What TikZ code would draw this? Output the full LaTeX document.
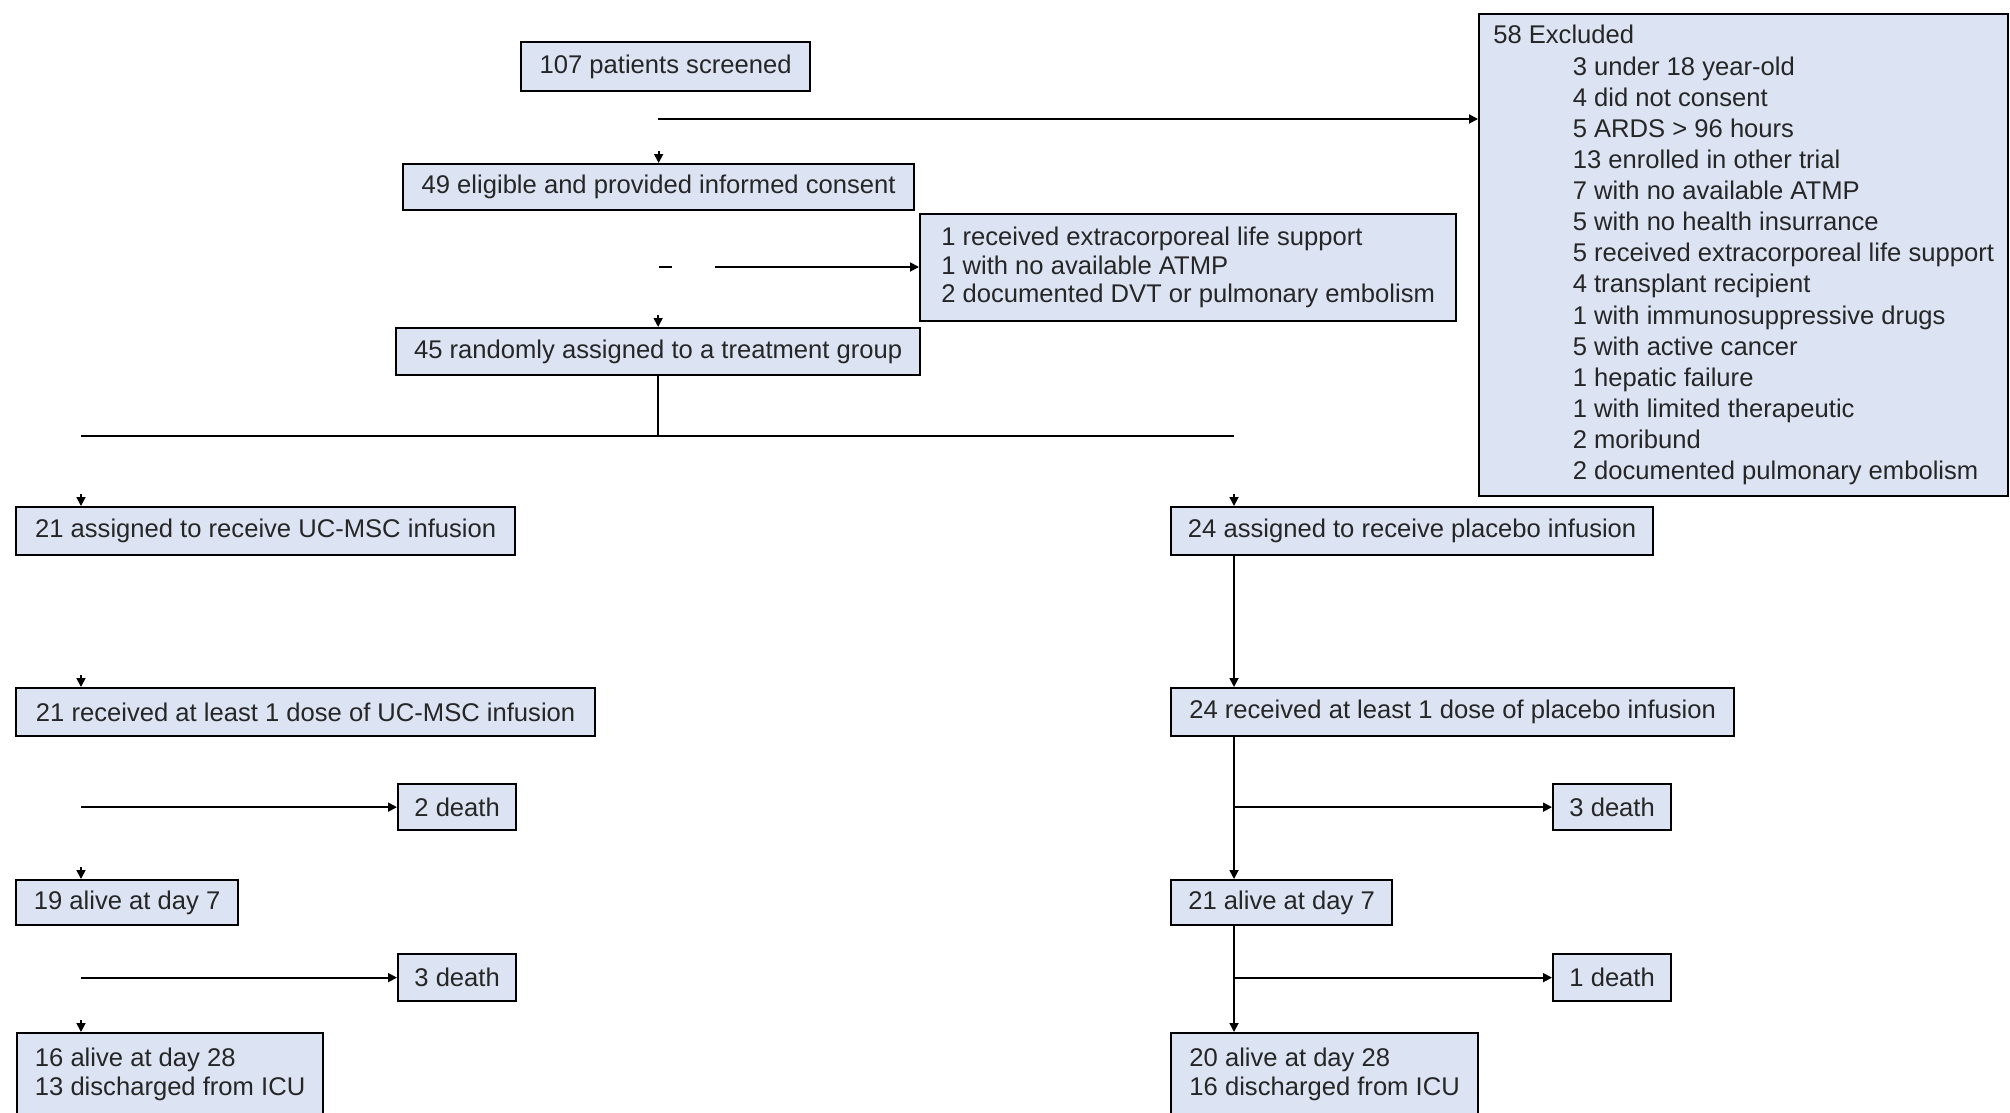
\documentclass[tikz,border=0pt]{standalone}
\usepackage{xcolor}
\usepackage{fontspec}
\setmainfont{Liberation Sans}
\usepackage{tikz}
\usetikzlibrary{arrows.meta,calc}

\definecolor{boxfill}{RGB}{220,227,242}
\newcommand{\exind}{\hspace*{31.8pt}}

\begin{document}
\begin{tikzpicture}[x=0.4pt, y=-0.4pt,
        box/.style={rectangle, draw, fill=boxfill, line width=0.9pt, anchor=north west, align=left, inner xsep=4pt, text=black!85, font=\fontsize{10.24}{11.5}\selectfont},
        arr/.style={-{Triangle[length=3.6pt,width=3.6pt]}, line width=0.7pt},
        flow/.style={line width=0.7pt}]
        \useasboundingbox (0,0) rectangle (2010,1112);
        \fill[white] (0,0) rectangle (2010,1112);

        % Enrolment
        \node (b_screen) [box, minimum width=115.6pt, minimum height=19.6pt] at (520,41) {107 patients screened};
        \node (b_excl) [box, minimum width=211.6pt, minimum height=192.8pt, inner ysep=4.5pt, font=\fontsize{10.24}{12.45}\selectfont] at (1478,13) {58 Excluded\\
            \exind 3 under 18 year-old\\
            \exind 4 did not consent\\
            \exind 5 ARDS > 96 hours\\
            \exind 13 enrolled in other trial\\
            \exind 7 with no available ATMP\\
            \exind 5 with no health insurrance\\
            \exind 5 received extracorporeal life support\\
            \exind 4 transplant recipient\\
            \exind 1 with immunosuppressive drugs\\
            \exind 5 with active cancer\\
            \exind 1 hepatic failure\\
            \exind 1 with limited therapeutic\\
            \exind 2 moribund\\
            \exind 2 documented pulmonary embolism};
        \node (b_consent) [box, minimum width=204.4pt, minimum height=18.4pt] at (402,163) {49 eligible and provided informed consent};
        \node (b_side) [box, minimum width=214.4pt, minimum height=42.8pt] at (919,213) {1 received extracorporeal life support\\ 1 with no available ATMP\\ 2 documented DVT or pulmonary embolism};
        \node (b_random) [box, minimum width=209.6pt, minimum height=18.8pt] at (395,327) {45 randomly assigned to a treatment group};

        % UC-MSC arm
        \node (b_uc) [box, minimum width=199.6pt, minimum height=19.2pt] at (15,506) {21 assigned to receive UC-MSC infusion};
        \node (b_ucdose) [box, minimum width=231.6pt, minimum height=19.2pt] at (15,687) {21 received at least 1 dose of UC-MSC infusion};
        \node (d_uc7) [box, minimum width=47.2pt, minimum height=18.4pt] at (397,783) {2 death};
        \node (b_uc7) [box, minimum width=88.8pt, minimum height=18pt] at (15,879) {19 alive at day 7};
        \node (d_uc28) [box, minimum width=47.2pt, minimum height=18.8pt] at (397,953) {3 death};
        \node (b_uc28) [box, minimum width=122.4pt, minimum height=33pt] at (16,1032) {16 alive at day 28\\ 13 discharged from ICU};

        % Placebo arm
        \node (b_pl) [box, minimum width=192.8pt, minimum height=19.2pt] at (1170,506) {24 assigned to receive placebo infusion};
        \node (b_pldose) [box, minimum width=225.2pt, minimum height=19.2pt] at (1170,687) {24 received at least 1 dose of placebo infusion};
        \node (d_pl7) [box, minimum width=47.2pt, minimum height=18.4pt] at (1552,783) {3 death};
        \node (b_pl7) [box, minimum width=88.4pt, minimum height=18pt] at (1170,879) {21 alive at day 7};
        \node (d_pl28) [box, minimum width=47.2pt, minimum height=18.8pt] at (1552,953) {1 death};
        \node (b_pl28) [box, minimum width=122.8pt, minimum height=33pt] at (1170,1032) {20 alive at day 28\\ 16 discharged from ICU};

        % Helper points
        \coordinate (excl_from) at (658,119);
        \coordinate (side_from) at (715,267);
        \coordinate (split_l) at (81,436);
        \coordinate (split_r) at (1234,436);

        % Connections (top)
        \draw[arr] (excl_from) -- (excl_from -| b_excl.west);
        \draw[arr] ($(b_consent.north)+(0,-12)$) -- (b_consent.north);
        \draw[flow] (659,267) -- (672,267);
        \draw[arr] (side_from) -- (side_from -| b_side.west);
        \draw[arr] ($(b_random.north)+(0,-12)$) -- (b_random.north);
        \draw[flow] (b_random.south) -- (b_random.south |- split_l);
        \draw[flow] (split_l) -- (split_r);

        % Connections (UC-MSC)
        \draw[arr] ($(split_l |- b_uc.north)+(0,-12)$) -- (split_l |- b_uc.north);
        \draw[arr] ($(split_l |- b_ucdose.north)+(0,-12)$) -- (split_l |- b_ucdose.north);
        \draw[arr] (d_uc7.west -| split_l) -- (d_uc7.west);
        \draw[arr] ($(split_l |- b_uc7.north)+(0,-12)$) -- (split_l |- b_uc7.north);
        \draw[arr] (d_uc28.west -| split_l) -- (d_uc28.west);
        \draw[arr] ($(split_l |- b_uc28.north)+(0,-12)$) -- (split_l |- b_uc28.north);

        % Connections (placebo)
        \draw[arr] ($(split_r |- b_pl.north)+(0,-12)$) -- (split_r |- b_pl.north);
        \draw[arr] (split_r |- b_pl.south) -- (split_r |- b_pldose.north);
        \draw[arr] (split_r |- b_pldose.south) -- (split_r |- b_pl7.north);
        \draw[arr] (d_pl7.west -| split_r) -- (d_pl7.west);
        \draw[arr] (split_r |- b_pl7.south) -- (split_r |- b_pl28.north);
        \draw[arr] (d_pl28.west -| split_r) -- (d_pl28.west);
    \end{tikzpicture}
\end{document}
